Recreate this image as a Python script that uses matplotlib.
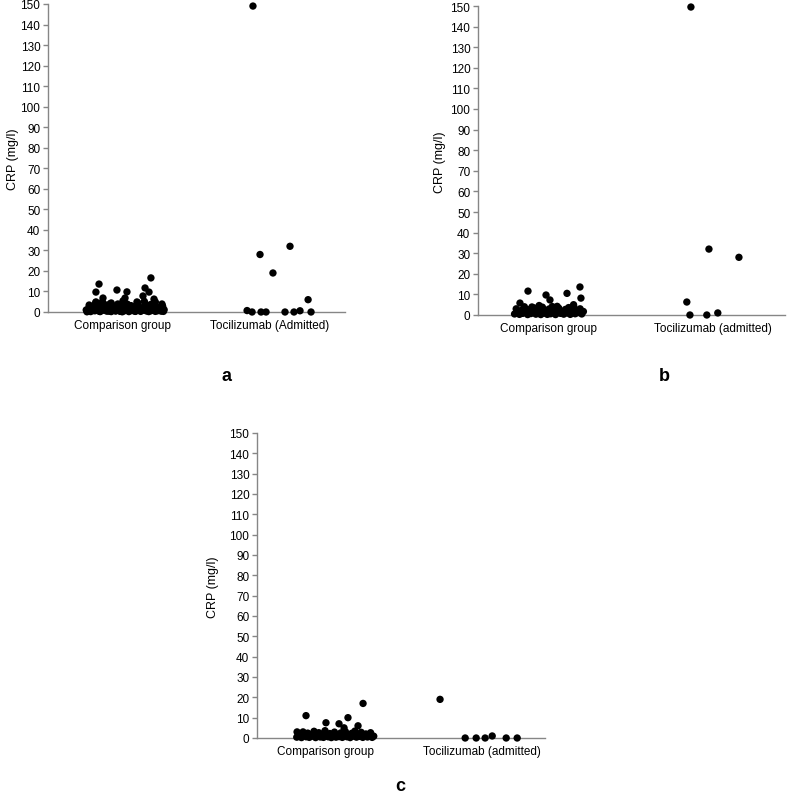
import matplotlib
matplotlib.use("Agg")
import matplotlib.pyplot as plt

plt.rcParams['font.family'] = ['Liberation Sans', 'DejaVu Sans']

# ---------------- data ----------------
categories_a = ["Comparison group", "Tocilizumab (Admitted)"]
categories_bc = ["Comparison group", "Tocilizumab (admitted)"]
y_ticks = list(range(0, 151, 10))

# Panel a - comparison group (jitter offset, CRP)
a_comp_jit = [-0.25,-0.24,-0.23,-0.22,-0.21,-0.20,-0.19,-0.18,-0.17,-0.16,-0.15,-0.14,-0.13,-0.12,-0.11,-0.10,-0.09,-0.08,
              -0.07,-0.06,-0.05,-0.04,-0.03,-0.02,-0.01,0.00,0.01,0.02,0.03,0.04,0.05,0.06,0.07,0.08,0.09,0.10,0.11,0.12,
              0.13,0.14,0.15,0.16,0.17,0.18,0.19,0.20,0.21,0.22,0.23,0.24,0.25,0.26,0.27,0.28,
              -0.245,-0.23,-0.215,-0.20,-0.185,-0.17,-0.155,-0.14,-0.125,-0.11,-0.095,-0.08,-0.065,-0.05,-0.035,-0.02,-0.005,
              0.01,0.025,0.04,0.055,0.07,0.085,0.10,0.115,0.13,0.145,0.16,0.175,0.19,0.205,0.22,0.235,0.25,0.265,0.275,
              -0.163,-0.184,-0.136,-0.041,0.027,0.014,0.190,0.150,0.177,0.136,0.211,0.265,-0.184,0.0,0.095,-0.088]
a_comp_crp = [1.0,0.5,2.5,0.2,1.8,3.0,0.6,1.2,4.0,0.3,2.0,0.8,1.5,3.5,0.4,2.2,0.9,0.2,2.8,1.1,0.5,3.2,1.6,0.3,0.9,2.4,
              0.6,1.3,3.8,0.2,1.9,0.7,2.6,0.4,1.4,3.3,0.8,0.3,2.1,1.0,4.2,0.5,1.7,2.9,0.6,1.2,3.6,0.3,2.3,0.9,1.5,0.4,2.7,1.1,
              0.1,3.4,1.5,0.7,4.6,2.0,0.2,5.0,1.0,3.0,0.4,4.4,1.8,0.6,3.9,2.6,0.1,4.8,1.3,0.5,3.1,2.2,0.3,4.5,1.6,0.8,5.2,
              2.4,0.2,3.7,1.0,4.9,0.6,2.0,3.4,0.3,
              13.6,9.7,6.8,10.7,9.8,6.8,16.6,11.7,9.7,7.8,6.3,3.9,4.9,5.4,4.9,4.0]

# Panel a - tocilizumab (admitted)
a_toc_jit = [-0.116,-0.068,0.136,0.020,0.259,-0.156,-0.122,-0.061,-0.027,0.102,0.163,0.204,0.279]
a_toc_crp = [149,28,32,19,6,0.7,0,0,0,0,0,0.6,0]

# Panel b - comparison group
b_comp_jit = [-0.21,-0.20,-0.19,-0.18,-0.17,-0.16,-0.15,-0.14,-0.13,-0.12,-0.11,-0.10,-0.09,-0.08,-0.07,-0.06,-0.05,-0.04,
              -0.03,-0.02,-0.01,0.00,0.01,0.02,0.03,0.04,0.05,0.06,0.07,0.08,0.09,0.10,0.11,0.12,0.13,0.14,0.15,0.16,0.17,
              0.18,0.19,0.20,0.21,
              -0.128,-0.018,0.006,0.110,0.189,0.195,-0.177,-0.104,-0.06,0.05,0.15]
b_comp_crp = [0.5,3.0,1.2,0.3,2.2,0.8,4.0,1.5,0.2,2.6,0.7,1.9,3.4,0.4,1.1,2.4,0.2,3.8,0.9,1.6,0.3,2.9,0.6,4.1,1.3,0.2,
              2.0,3.3,0.8,1.5,0.4,2.7,1.0,3.6,0.3,1.8,4.4,0.6,2.3,1.2,3.0,0.5,1.7,
              11.6,9.7,7.3,10.5,13.6,8.2,5.8,3.9,4.6,4.2,5.0]

# Panel b - tocilizumab (admitted)
b_toc_jit = [-0.134,-0.024,0.159,-0.159,-0.140,-0.037,0.030]
b_toc_crp = [149.5,32,28,6.3,0,0,1]

# Panel c - comparison group
c_comp_jit = [-0.18,-0.17,-0.16,-0.15,-0.14,-0.13,-0.12,-0.11,-0.10,-0.09,-0.08,-0.07,-0.06,-0.05,-0.04,-0.03,-0.02,-0.01,
              0.00,0.01,0.02,0.03,0.04,0.05,0.06,0.07,0.08,0.09,0.10,0.11,0.12,0.13,0.14,0.15,0.16,0.17,0.18,0.19,0.20,
              0.21,0.22,0.23,0.24,0.25,0.26,0.27,0.28,0.29,0.30,0.31,
              -0.121,0.006,0.089,0.146,0.242,0.210,0.121,-0.178]
c_comp_crp = [0.4,2.0,1.0,0.2,3.0,1.4,0.6,2.4,0.3,1.7,0.9,3.3,0.2,1.2,2.6,0.5,1.9,0.3,3.6,1.0,0.6,2.2,0.2,1.5,2.9,0.4,
              1.1,0.7,2.5,0.3,1.8,3.1,0.6,1.3,0.2,2.3,0.9,3.4,0.4,1.6,0.8,2.8,0.3,1.4,2.0,0.5,1.1,2.6,0.3,0.9,
              11,7.5,7,10,17,6,5,3]

# Panel c - tocilizumab (admitted)
c_toc_jit = [-0.268,-0.108,-0.038,0.019,0.064,0.153,0.223]
c_toc_crp = [19,0,0,0,1,0,0]

# ---------------- layout ----------------
W, H = 787, 803
fig = plt.figure(figsize=(W / 100, H / 100), dpi=100)


def px_axes(left, right, top, bottom):
    return fig.add_axes([left / W, 1 - bottom / H, (right - left) / W, (bottom - top) / H])


axis_col = "#868686"
FS = 8.5


def style(ax, cats, xlim, ylim=(0, 150)):
    ax.set_xlim(*xlim)
    ax.set_ylim(*ylim)
    ax.set_yticks(y_ticks)
    ax.set_yticklabels([str(t) for t in y_ticks])
    ax.set_xticks([1, 2])
    ax.set_xticklabels(cats)
    for s in ("top", "right"):
        ax.spines[s].set_visible(False)
    for s in ("left", "bottom"):
        ax.spines[s].set_color(axis_col)
        ax.spines[s].set_linewidth(1.0)
    ax.tick_params(axis="y", direction="out", length=3.5, width=1.0, color=axis_col,
                   labelsize=FS, pad=2, labelcolor="black")
    ax.tick_params(axis="x", length=0, labelsize=FS, pad=5, labelcolor="black")
    ax.set_facecolor("none")


def scatter(ax, jit, vals, center):
    ax.scatter([center + j for j in jit], vals, s=28, color="black", edgecolors="none",
               zorder=3, clip_on=False)


# panel a
ax_a = px_axes(48, 345, 5, 313)
style(ax_a, categories_a, (0.49, 2.51))
scatter(ax_a, a_comp_jit, a_comp_crp, 1)
scatter(ax_a, a_toc_jit, a_toc_crp, 2)

# panel b
ax_b = px_axes(478, 785, 7, 316)
style(ax_b, categories_bc, (0.567, 2.44))
scatter(ax_b, b_comp_jit, b_comp_crp, 1)
scatter(ax_b, b_toc_jit, b_toc_crp, 2)

# panel c
ax_c = px_axes(257, 545, 434, 739)
style(ax_c, categories_bc, (0.567, 2.40))
scatter(ax_c, c_comp_jit, c_comp_crp, 1)
scatter(ax_c, c_toc_jit, c_toc_crp, 2)

# y labels
for x_px, y_px in ((13, 159), (440, 162), (213, 587)):
    fig.text(x_px / W, 1 - y_px / H, "CRP (mg/l)", rotation=90, ha="center", va="center", fontsize=9)

# panel letters
for x_px, y_px, t in ((227, 377, "a"), (664, 377, "b"), (400, 787, "c")):
    fig.text(x_px / W, 1 - y_px / H, t, ha="center", va="center", fontsize=13, fontweight="bold")

fig.savefig("out.png", dpi=100)
